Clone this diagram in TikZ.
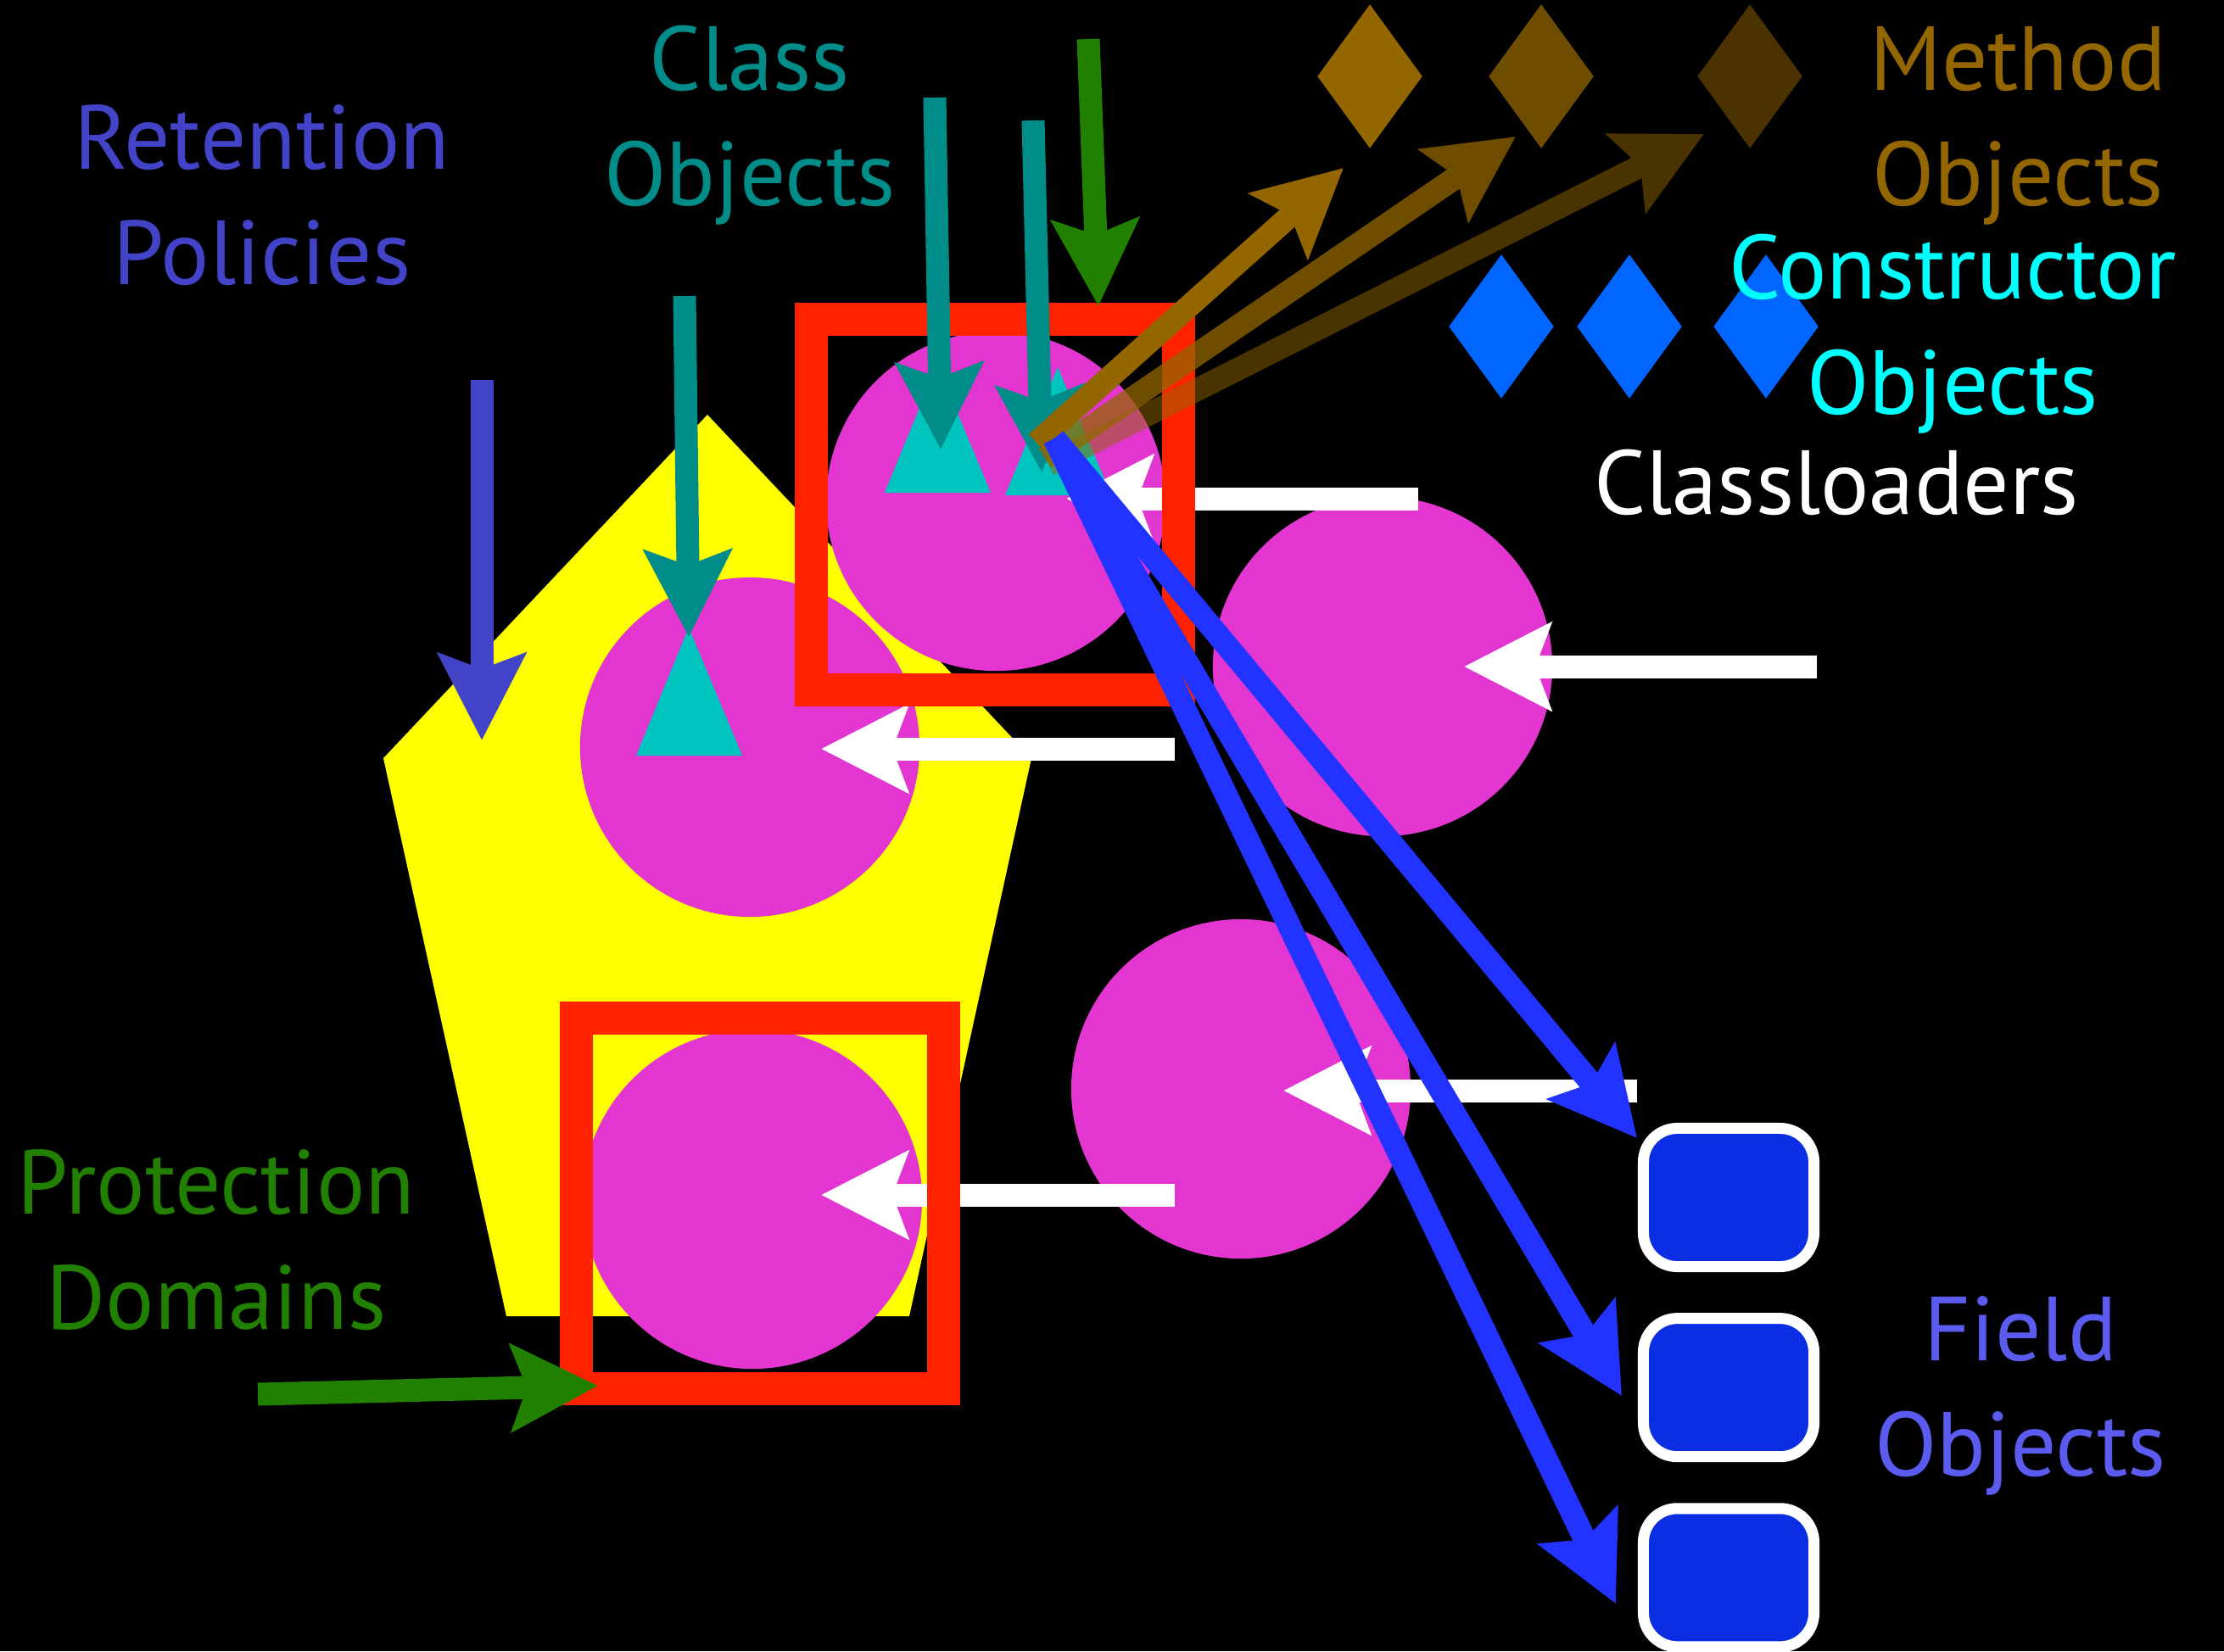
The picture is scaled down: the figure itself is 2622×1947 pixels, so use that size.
\documentclass[tikz,border=0pt]{standalone}
\usepackage{fontspec}
\setmainfont{PT Sans}
\usetikzlibrary{arrows.meta,shapes.geometric,positioning}

\definecolor{penta}{HTML}{FFFF00}
\definecolor{loadpink}{HTML}{E335CF}
\definecolor{pdred}{HTML}{FF2200}
\definecolor{clsteal}{HTML}{008C88}
\definecolor{clscyan}{HTML}{00C5BF}
\definecolor{pdgreen}{HTML}{228000}
\definecolor{retblue}{HTML}{4343C8}
\definecolor{methbrown}{HTML}{936600}
\definecolor{fldblue}{HTML}{2233FF}
\definecolor{fldbox}{HTML}{0C2EE3}
\definecolor{fldtext}{HTML}{5B5BF0}
\definecolor{ctorblue}{HTML}{0066FF}
\definecolor{ctortext}{HTML}{00FFFF}

\tikzset{
  ptr/.style={line width=0.27cm, -{Stealth[length=1.02cm,width=1.02cm,inset=0.18cm]}},
  loader/.style={circle, fill=loadpink, minimum size=4cm, inner sep=0pt},
  pdframe/.style={draw=pdred, line width=0.39cm, minimum width=4.32cm, minimum height=4.37cm, inner sep=0pt},
  field/.style={draw=white, fill=fldbox, line width=0.13cm, rounded corners=0.4cm,
    minimum width=2.01cm, minimum height=1.63cm, inner sep=0pt},
  gem/.style={diamond, minimum width=1.24cm, minimum height=1.7cm, inner sep=0pt},
  lbl/.style={align=center, anchor=base, inner sep=0pt, font=\fontsize{30.5}{38.5}\selectfont}
}

\begin{document}
\begin{tikzpicture}[x=0.01cm, y=-0.01cm]
    \fill[black] (0,0) rectangle (2622,1947);
    \useasboundingbox (0,0) rectangle (2622,1947);

    % heap
    \fill[penta] (834,489) -- (1216,894) -- (1072,1552) -- (597,1552) -- (452,894) -- cycle;

    \node[loader] (cl1) at (1174,591) {};
    \node[loader] (cl2) at (884,881) {};
    \node[loader] (cl3) at (1630,786) {};
    \node[loader] (cl4) at (1463,1284) {};
    \node[loader] (cl5) at (887,1414) {};

    \fill[clscyan] (812,740) -- (875,891) -- (750,891) -- cycle;
    \fill[clscyan] (1105,430) -- (1168,581) -- (1043,581) -- cycle;
    \fill[clscyan] (1247,433) -- (1310,584) -- (1185,584) -- cycle;

    % classloader pointers
    \coordinate (w1) at (1672,588);   \coordinate (w1e) at (1257,588);
    \coordinate (w2) at (2142,786);   \coordinate (w2e) at (1726,786);
    \coordinate (w3) at (1385,883);   \coordinate (w3e) at (968,883);
    \coordinate (w4) at (1930,1286);  \coordinate (w4e) at (1513,1286);
    \coordinate (w5) at (1385,1409);  \coordinate (w5e) at (968,1409);
    \foreach \i in {1,...,5}
      \draw[ptr, white] (w\i) -- (w\i e);

    \node[pdframe] (pd1) at (1173,595) {};
    \node[pdframe] (pd2) at (896,1419) {};

    \node[field] (f1) at (2038,1412) {};
    \node[field, below=0.48cm of f1] (f2) {};
    \node[field, below=0.48cm of f2] (f3) {};

    \node[gem, fill=methbrown] (m1) at (1615,90) {};
    \node[gem, fill=methbrown!75!black] (m2) at (1817,90) {};
    \node[gem, fill=methbrown!50!black] (m3) at (2063,90) {};
    \node[gem, fill=ctorblue] (k1) at (1770,385) {};
    \node[gem, fill=ctorblue] (k2) at (1921,385) {};
    \node[gem, fill=ctorblue] (k3) at (2082,385) {};

    % arrows
    \coordinate (r0) at (568,448);   \coordinate (r1) at (568,873);
    \coordinate (c0) at (807,349);   \coordinate (c1) at (812,751);
    \coordinate (c2) at (1102,115);  \coordinate (c3) at (1109,530);
    \coordinate (c4) at (1218,142);  \coordinate (c5) at (1228,557);
    \coordinate (g0) at (1283,46);   \coordinate (g1) at (1295,361);
    \coordinate (g2) at (304,1644);  \coordinate (g3) at (705,1634);
    \draw[ptr, retblue] (r0) -- (r1);
    \draw[ptr, clsteal] (c0) -- (c1);
    \draw[ptr, clsteal] (c2) -- (c3);
    \draw[ptr, clsteal] (c4) -- (c5);
    \draw[ptr, pdgreen] (g0) -- (g1);
    \draw[ptr, pdgreen] (g2) -- (g3);

    \coordinate (b1) at (1222,522);  \coordinate (b1e) at (1584,198);
    \coordinate (b2) at (1232,540);  \coordinate (b2e) at (1787,161);
    \coordinate (b3) at (1236,548);  \coordinate (b3e) at (2009,158);
    \draw[ptr, methbrown] (b1) -- (b1e);
    \begin{scope}[transparency group, opacity=.75]
      \draw[ptr, methbrown] (b2) -- (b2e);
    \end{scope}
    \begin{scope}[transparency group, opacity=.5]
      \draw[ptr, methbrown] (b3) -- (b3e);
    \end{scope}

    \coordinate (fs) at (1243,517);
    \coordinate (fe1) at (1930,1342);
    \coordinate (fe2) at (1912,1646);
    \coordinate (fe3) at (1905,1891);
    \foreach \i in {1,2,3}
      \draw[ptr, fldblue] (fs) -- (fe\i);

    % labels (anchored on the last line)
    \node[lbl, text=retblue] (ret) at (309,335) {Retention\\Policies};
    \node[lbl, text=clsteal] (cls) at (884,242) {Class\\Objects};
    \node[lbl, text=methbrown] (mth) at (2379,242) {Method\\Objects};
    \node[lbl, text=ctortext] (ctr) at (2302,488) {Constructor\\Objects};
    \node[lbl, text=white] (ldr) at (2165,606) {Classloaders};
    \node[lbl, text=pdgreen] (prt) at (255,1567) {Protection\\Domains};
    \node[lbl, text=fldtext] (fld) at (2382,1740) {Field\\Objects};
\end{tikzpicture}
\end{document}
